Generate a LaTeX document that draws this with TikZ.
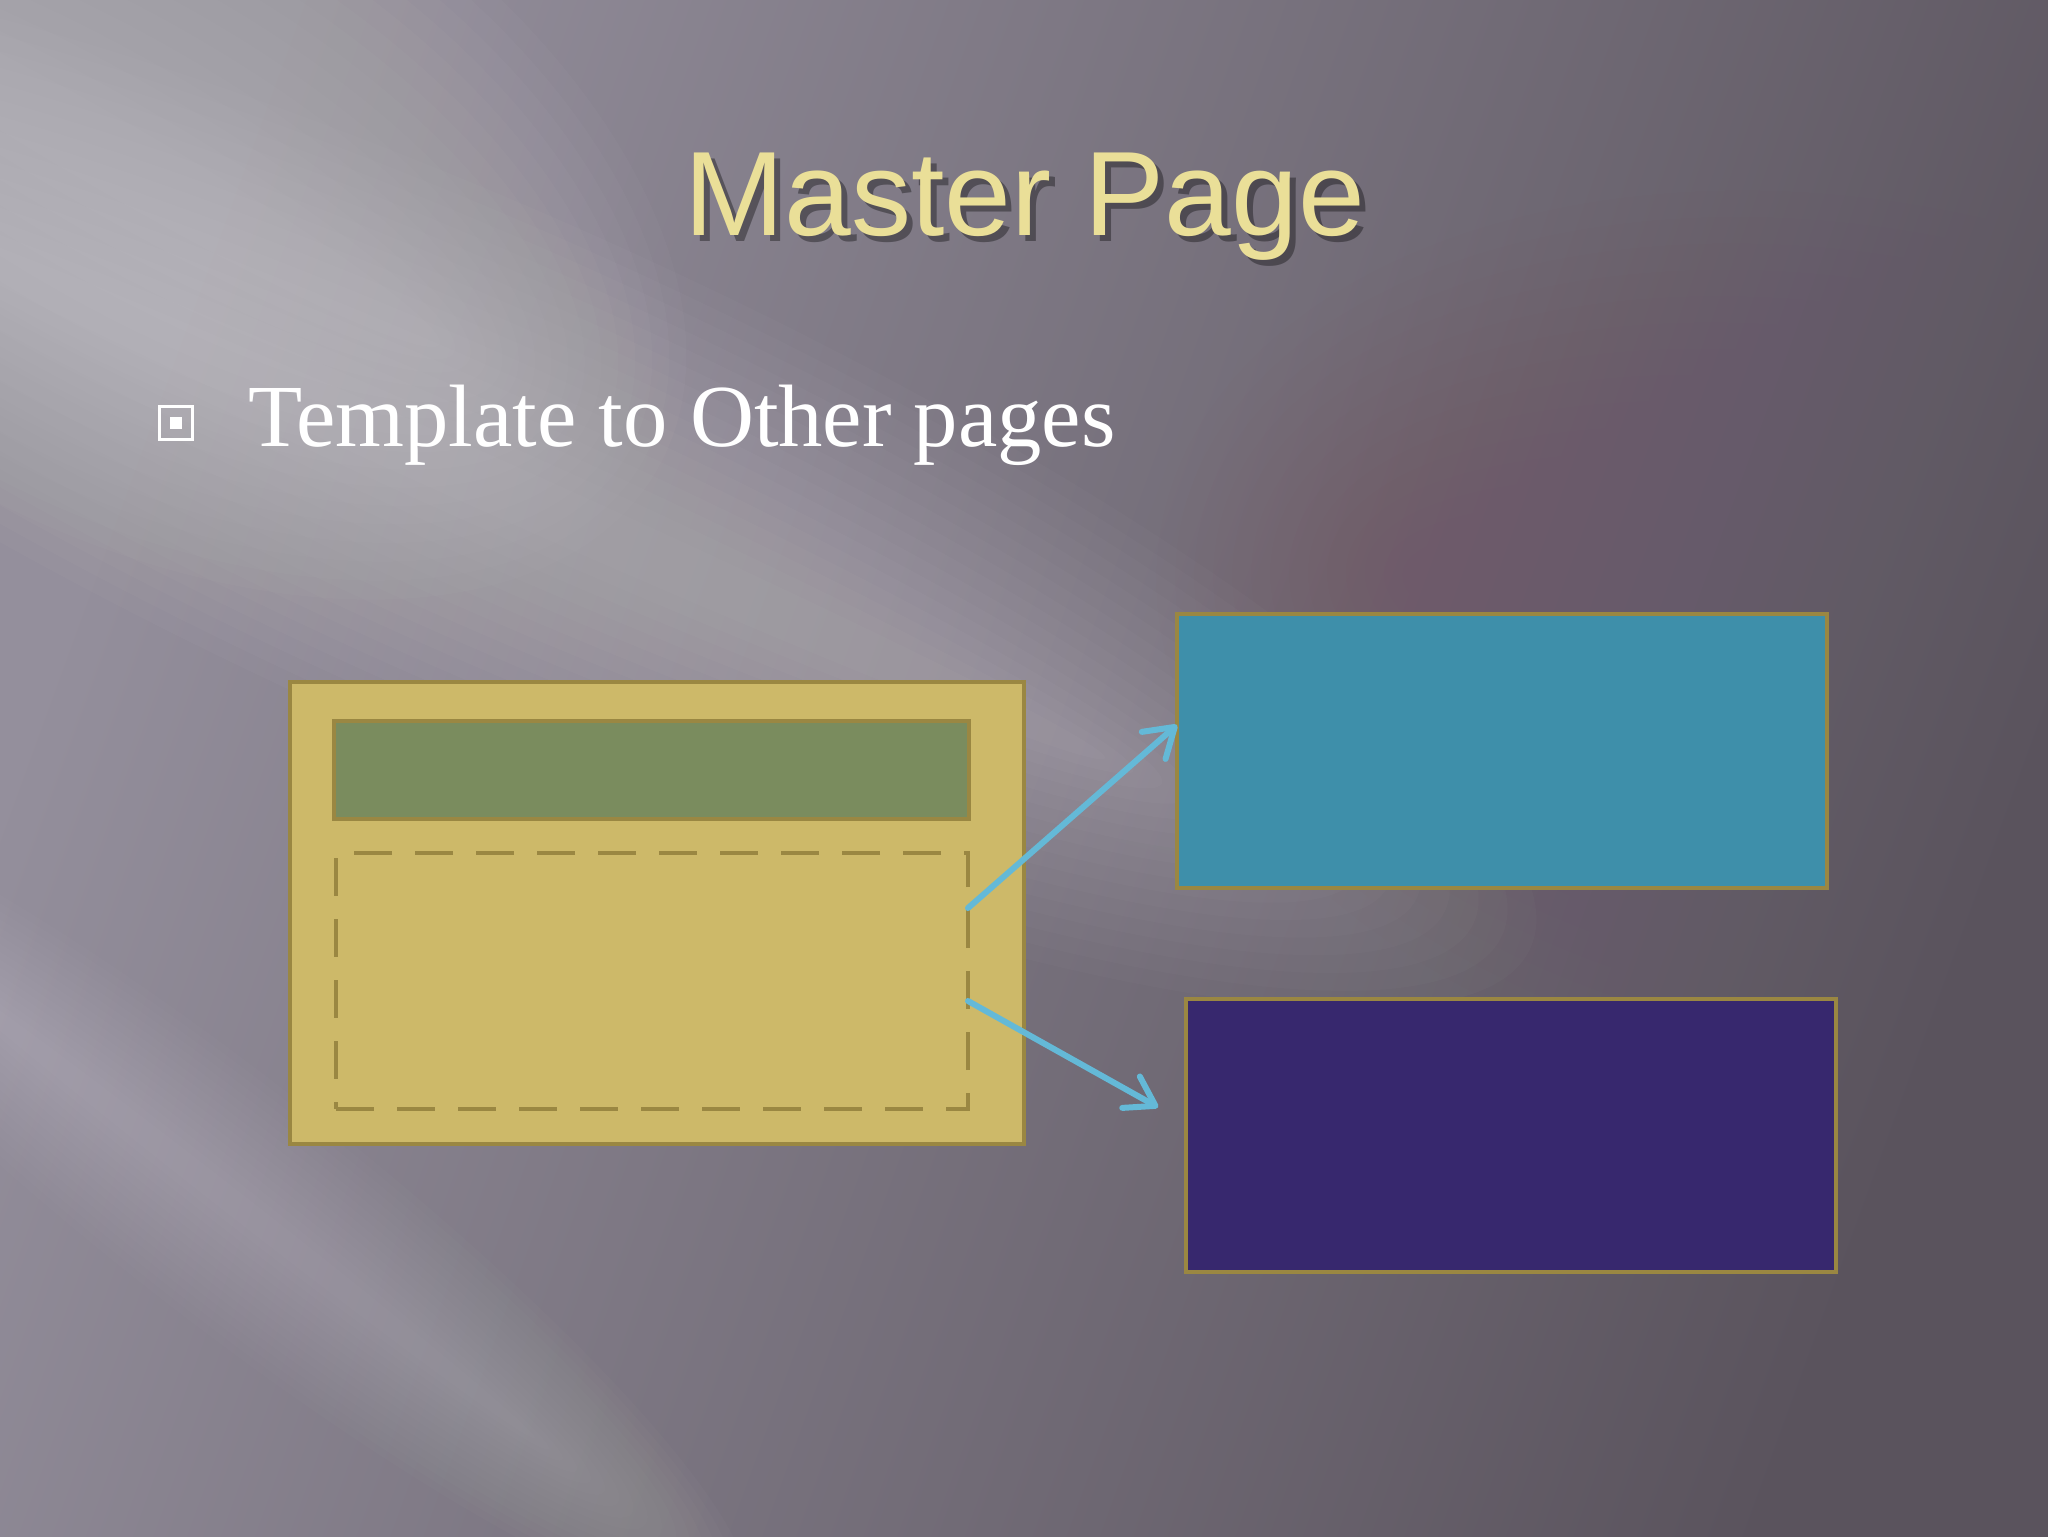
\documentclass[tikz,border=0pt]{standalone}
\usepackage{fontspec}
\setmainfont{Liberation Serif}
\newfontfamily\titlefont{Liberation Sans}
\usetikzlibrary{arrows.meta,calc}
\definecolor{bgleft}{HTML}{948F9C}
\definecolor{bgmid}{HTML}{6E6873}
\definecolor{bgright}{HTML}{5A535D}
\definecolor{mauve}{HTML}{7A5A6A}
\definecolor{rimgold}{HTML}{9A8742}
\definecolor{masterfill}{HTML}{CDB969}
\definecolor{headgreen}{HTML}{7A8C5E}
\definecolor{tealfill}{HTML}{3E8FAA}
\definecolor{purplefill}{HTML}{37286E}
\definecolor{arrowblue}{HTML}{64B9D7}
\definecolor{titleyellow}{HTML}{EADF98}
% soft glow: centre x, centre y, angle, long radius, short radius, opacity per layer, colour
\newcommand\glowband[7]{%
  \foreach \w in {1,0.94,0.88,0.82,0.76,0.70,0.64,0.58,0.52,0.46,0.40,0.34,0.28,0.22,0.16,0.10}{%
    \fill[#7, opacity=#6, rotate around={#3:(#1,#2)}]
      (#1,#2) ellipse [x radius={#4*(0.55+0.45*\w)*0.5pt}, y radius={#5*\w*0.5pt}];
  }%
}
\begin{document}
\begin{tikzpicture}[x=0.5pt,y=-0.5pt,
  pagebox/.style={draw=rimgold, line width=2pt, inner sep=0pt, outer sep=0pt, anchor=north west},
  dashbox/.style={draw=rimgold, line width=2pt, dash pattern=on 19pt off 11.5pt, inner sep=0pt, outer sep=0pt, anchor=north west},
  linkarrow/.style={draw=arrowblue, line width=3pt, line cap=round,
    -{Straight Barb[length=14pt, width=18pt, line cap=round, line join=round]}},
  titletext/.style={font=\titlefont\fontsize{60}{72}\selectfont, anchor=base, inner sep=0pt},
]
\useasboundingbox (0,0) rectangle (2048,1536);
% background
\shade[shading=axis, top color=bgleft, middle color=bgmid, bottom color=bgright, shading angle=70]
  (0,0) rectangle (2048,1536);
\begin{scope}
  \clip (0,0) rectangle (2048,1536);
  \glowband{1850}{650}{-10}{700}{450}{0.004}{mauve}
  \glowband{480}{480}{-24}{1150}{270}{0.018}{white}
  \glowband{120}{160}{-30}{620}{360}{0.02}{white}
  \glowband{230}{1200}{-38}{650}{120}{0.015}{white}
  \glowband{1060}{760}{-20}{260}{60}{0.007}{white}
\end{scope}
% title
\node[titletext, text=black, opacity=0.35] (tshadow) at (1031,241) {Master Page};
\node[titletext, text=titleyellow] (title) at (1025,235) {Master Page};
% bullet
\node[draw=white, line width=1.6pt, minimum size=16.5pt, inner sep=0pt] (bul) at (176,423) {};
\node[fill=white, minimum size=6pt, inner sep=0pt] (buldot) at (bul.center) {};
\node[font=\fontsize{44.3}{52}\selectfont, text=white, anchor=base west, inner sep=0pt] (bullet) at (248,446) {Template to Other pages};
% master page
\node[pagebox, fill=masterfill, minimum width=367pt, minimum height=231pt] (master) at (290,682) {};
\node[pagebox, fill=headgreen, minimum width=317.5pt, minimum height=49pt] (head) at (334,721) {};
\node[dashbox, minimum width=316pt, minimum height=128pt] (dash) at (336,853) {};
% other pages
\node[pagebox, fill=tealfill, minimum width=325pt, minimum height=137pt] (teal) at (1177,614) {};
\node[pagebox, fill=purplefill, minimum width=325pt, minimum height=136.5pt] (purple) at (1186,999) {};
% arrows
\draw[linkarrow] ($(dash.north east)!0.215!(dash.south east)$) -- ($(teal.north west)!0.405!(teal.south west)$);
\draw[linkarrow, shorten >=16pt] ($(dash.north east)!0.578!(dash.south east)$) -- ($(purple.north west)!0.454!(purple.south west)$);
\end{tikzpicture}
\end{document}
